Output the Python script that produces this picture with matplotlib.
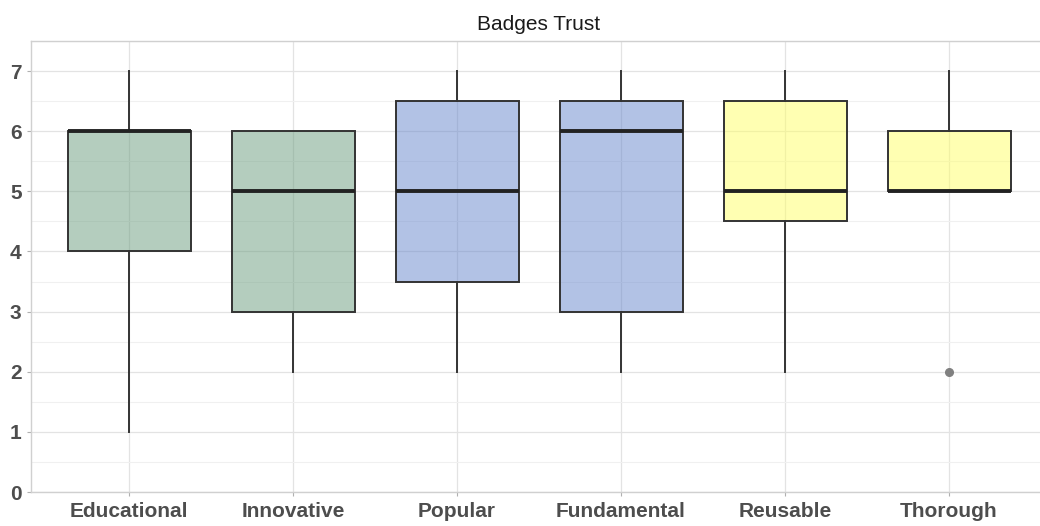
import matplotlib.pyplot as plt
from matplotlib.colors import to_rgb
from matplotlib.ticker import MultipleLocator

# box statistics
categories = ["Educational", "Innovative", "Popular", "Fundamental", "Reusable", "Thorough"]
whisker_low = [1, 2, 2, 2, 2, 5]
q1_values = [4, 3, 3.5, 3, 4.5, 5]
medians = [6, 5, 5, 6, 5, 5]
q3_values = [6, 6, 6.5, 6.5, 6.5, 6]
whisker_high = [7, 6, 7, 7, 7, 7]
outliers = [[], [], [], [], [], [2]]
group_colors = ["#6b9d7f", "#6b9d7f", "#6787cd", "#6787cd", "#ffff67", "#ffff67"]

plt.rcParams["font.family"] = ["Liberation Sans", "DejaVu Sans"]

fig = plt.figure(figsize=(10.4, 5.26), dpi=100)
ax = fig.add_axes([30.6 / 1040, 34 / 526, 1016.8 / 1040, 451 / 526])

stats = []
for i, name in enumerate(categories):
    stats.append({
        "label": name,
        "whislo": whisker_low[i],
        "q1": q1_values[i],
        "med": medians[i],
        "q3": q3_values[i],
        "whishi": whisker_high[i],
        "fliers": outliers[i],
    })

positions = list(range(1, len(categories) + 1))
result = ax.bxp(
    stats,
    positions=positions,
    widths=0.75,
    patch_artist=True,
    showcaps=False,
    boxprops=dict(edgecolor="#333333", linewidth=1.4),
    medianprops=dict(color="#222222", linewidth=2.8, solid_capstyle="butt"),
    whiskerprops=dict(color="#333333", linewidth=1.4),
    flierprops=dict(marker="o", markerfacecolor="#808080", markeredgecolor="#808080", markersize=5.5),
)
for patch, color in zip(result["boxes"], group_colors):
    patch.set_facecolor((*to_rgb(color), 0.5))

ax.set_xlim(0.4, 6.6)
ax.set_ylim(0, 7.5)
ax.set_xticks(positions)
ax.set_xticklabels(categories)
ax.yaxis.set_major_locator(MultipleLocator(1))
ax.yaxis.set_minor_locator(MultipleLocator(0.5))

ax.set_axisbelow(True)
ax.grid(which="major", color="#e3e3e3", linewidth=0.9)
ax.grid(which="minor", axis="y", color="#f0f0f0", linewidth=0.8)

for side in ax.spines.values():
    side.set_color("#d0d0d0")
    side.set_linewidth(1.0)

ax.tick_params(axis="both", which="major", length=3, color="#b0b0b0", labelcolor="#4d4d4d")
ax.tick_params(axis="x", which="major", pad=4)
ax.tick_params(axis="both", which="minor", length=0)
for label in ax.get_xticklabels() + ax.get_yticklabels():
    label.set_fontweight("bold")
    label.set_fontsize(15)

ax.set_title("Badges Trust", fontsize=15, color="#1a1a1a", pad=8)

fig.savefig("out.png", dpi=100)
